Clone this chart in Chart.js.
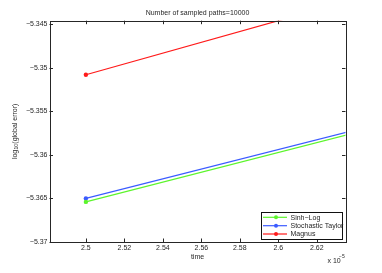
<!DOCTYPE html>
<html>
<head>
<meta charset="utf-8">
<script src="https://cdn.jsdelivr.net/npm/chart.js@4.4.0/dist/chart.umd.min.js"></script>
<style>
html, body { margin: 0; padding: 0; background: #fff; }
canvas { display: block; }
</style>
</head>
<body>
<canvas id="chart" width="382" height="273"></canvas>
<script>
// Data (time in units of 1e-5)
const TIMES = [2.5, 2.75];
const SINH_LOG = [-5.3654, -5.3512];
const STOCH_TAYLOR = [-5.3650, -5.3510];
const MAGNUS = [-5.3508, -5.3353];

const X_TICKS = [2.5, 2.52, 2.54, 2.56, 2.58, 2.6, 2.62];
const X_TICK_LABELS = ['2.5', '2.52', '2.54', '2.56', '2.58', '2.6', '2.62'];
const Y_TICKS = [-5.37, -5.365, -5.36, -5.355, -5.35, -5.345];
const Y_TICK_LABELS = ['\u22125.37', '\u22125.365', '\u22125.36', '\u22125.355', '\u22125.35', '\u22125.345'];

const FONT = 'Liberation Sans';
const TEXT_COLOR = '#262626';

// Box with inward ticks on all four sides
const boxPlugin = {
    id: 'matlabBox',
    afterDraw(chart) {
        const ctx = chart.ctx;
        const a = chart.chartArea;
        const xs = chart.scales.x;
        const ys = chart.scales.y;
        const len = 3.5;
        ctx.save();
        ctx.strokeStyle = TEXT_COLOR;
        ctx.lineWidth = 1;
        ctx.beginPath();
        X_TICKS.forEach(v => {
            const px = Math.round(xs.getPixelForValue(v)) + 0.5;
            ctx.moveTo(px, a.bottom); ctx.lineTo(px, a.bottom - len);
            ctx.moveTo(px, a.top); ctx.lineTo(px, a.top + len);
        });
        Y_TICKS.forEach(v => {
            const py = Math.round(ys.getPixelForValue(v)) + 0.5;
            ctx.moveTo(a.left, py); ctx.lineTo(a.left + len, py);
            ctx.moveTo(a.right, py); ctx.lineTo(a.right - len, py);
        });
        ctx.stroke();
        ctx.strokeRect(Math.round(a.left) + 0.5, Math.round(a.top) + 0.5,
            Math.round(a.right - a.left), Math.round(a.bottom - a.top));
        ctx.restore();
    }
};

// Legend inside the plot, bottom right
const legendPlugin = {
    id: 'insideLegend',
    afterDraw(chart) {
        const ctx = chart.ctx;
        const lx = 261.5, ly = 212.5, lw = 81, lh = 27;
        const rows = [217.3, 225.7, 234];
        ctx.save();
        ctx.fillStyle = '#fff';
        ctx.fillRect(lx, ly, lw, lh);
        ctx.strokeStyle = '#111';
        ctx.lineWidth = 1;
        ctx.strokeRect(lx, ly, lw, lh);
        ctx.font = '7px "' + FONT + '"';
        ctx.textBaseline = 'middle';
        ctx.textAlign = 'left';
        chart.data.datasets.forEach((ds, i) => {
            const y = rows[i];
            ctx.strokeStyle = ds.borderColor;
            ctx.lineWidth = 1.2;
            ctx.beginPath();
            ctx.moveTo(263, y); ctx.lineTo(287, y);
            ctx.stroke();
            ctx.fillStyle = ds.borderColor;
            ctx.beginPath();
            ctx.arc(276, y, 2, 0, Math.PI * 2);
            ctx.fill();
            ctx.fillStyle = TEXT_COLOR;
            ctx.fillText(ds.label, 290.5, y + 0.5);
        });
        ctx.restore();
    }
};

// x 10^-5 multiplier and y label with subscript
const labelPlugin = {
    id: 'extraLabels',
    afterDraw(chart) {
        const ctx = chart.ctx;
        const a = chart.chartArea;
        ctx.save();
        ctx.fillStyle = TEXT_COLOR;
        ctx.textBaseline = 'middle';
        ctx.textAlign = 'left';
        ctx.font = '7px "' + FONT + '"';
        ctx.fillText('x 10', 327.5, 260.7);
        ctx.font = '5px "' + FONT + '"';
        ctx.fillText('\u22125', 339, 256.7);

        ctx.translate(15, (a.top + a.bottom) / 2);
        ctx.rotate(-Math.PI / 2);
        ctx.font = '7px "' + FONT + '"';
        const w1 = ctx.measureText('log').width;
        const w3 = ctx.measureText('(global error)').width;
        ctx.font = '5px "' + FONT + '"';
        const w2 = ctx.measureText('10').width + 0.5;
        const x0 = -(w1 + w2 + w3) / 2;
        ctx.font = '7px "' + FONT + '"';
        ctx.fillText('log', x0, 0);
        ctx.font = '5px "' + FONT + '"';
        ctx.fillText('10', x0 + w1 + 0.3, 2);
        ctx.font = '7px "' + FONT + '"';
        ctx.fillText('(global error)', x0 + w1 + w2, 0);
        ctx.restore();
    }
};

function makeDataset(label, values, color) {
    return {
        label: label,
        data: TIMES.map((t, i) => ({ x: t, y: values[i] })),
        borderColor: color,
        backgroundColor: color,
        borderWidth: 1.2,
        pointRadius: 2.2,
        pointBorderWidth: 0,
        tension: 0
    };
}

new Chart(document.getElementById('chart'), {
    type: 'line',
    data: {
        datasets: [
            makeDataset('Sinh\u2212Log', SINH_LOG, '#5cf52c'),
            makeDataset('Stochastic Taylor', STOCH_TAYLOR, '#3b5bff'),
            makeDataset('Magnus', MAGNUS, '#ff1a1a')
        ]
    },
    options: {
        responsive: false,
        animation: false,
        devicePixelRatio: 1,
        layout: { padding: { left: 0, right: 36.5, top: 0, bottom: 0 } },
        plugins: {
            legend: { display: false },
            tooltip: { enabled: false },
            title: {
                display: true,
                text: 'Number of sampled paths=10000',
                color: TEXT_COLOR,
                fullSize: false,
                font: { family: FONT, size: 7, weight: 'normal' },
                padding: { top: 8.5, bottom: 3.8 }
            }
        },
        scales: {
            x: {
                type: 'linear',
                min: 2.4811,
                max: 2.6349,
                grid: { display: false, drawTicks: false },
                border: { display: false },
                afterBuildTicks(scale) { scale.ticks = X_TICKS.map(v => ({ value: v })); },
                afterFit(scale) { scale.height = 31; },
                ticks: {
                    color: TEXT_COLOR,
                    padding: 2,
                    maxRotation: 0,
                    autoSkip: false,
                    font: { family: FONT, size: 7 },
                    callback: (v, i) => X_TICK_LABELS[i]
                },
                title: {
                    display: true,
                    text: 'time',
                    color: TEXT_COLOR,
                    font: { family: FONT, size: 7 },
                    padding: { top: 0, bottom: 12.1 }
                }
            },
            y: {
                type: 'linear',
                min: -5.37,
                max: -5.3446,
                grid: { display: false, drawTicks: false },
                border: { display: false },
                afterBuildTicks(scale) { scale.ticks = Y_TICKS.map(v => ({ value: v })); },
                afterFit(scale) { scale.width = 49.5; },
                ticks: {
                    color: TEXT_COLOR,
                    padding: 2,
                    autoSkip: false,
                    font: { family: FONT, size: 7 },
                    callback: (v, i) => Y_TICK_LABELS[i]
                }
            }
        }
    },
    plugins: [boxPlugin, legendPlugin, labelPlugin]
});
</script>
</body>
</html>
